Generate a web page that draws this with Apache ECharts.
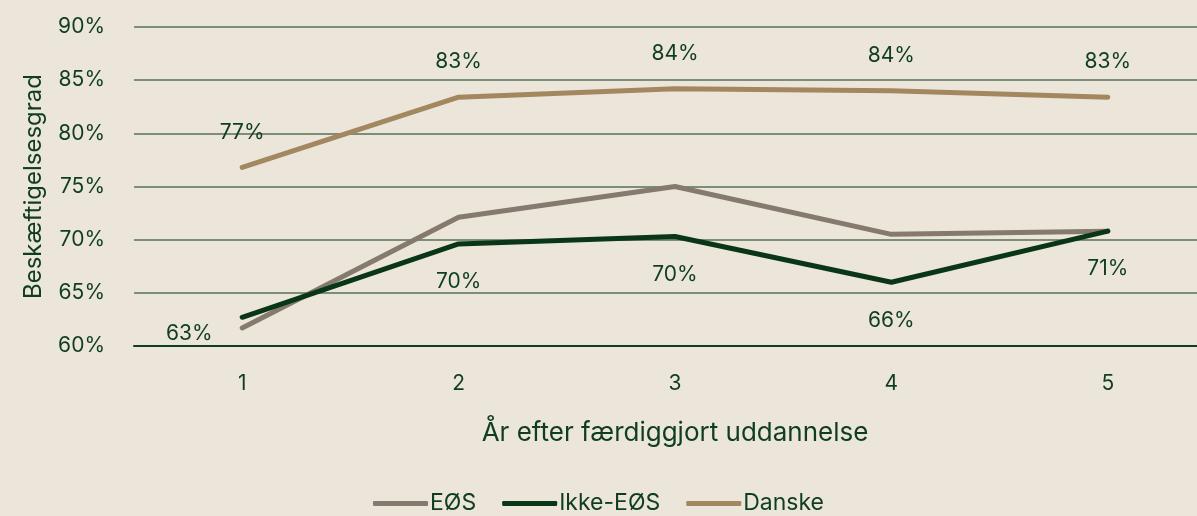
<!DOCTYPE html>
<html><head><meta charset="utf-8">
<script src="https://cdn.jsdelivr.net/npm/echarts@6/dist/echarts.min.js"></script>
<style>html,body{margin:0;padding:0;background:#ebe5da;}#c{width:1197px;height:516px;}</style>
</head><body><div id="c"></div>
<script>
const categories = ['1','2','3','4','5'];
const eos = [61.7, 72.1, 75.0, 70.5, 70.8];
const ikkeEos = [62.7, 69.6, 70.3, 66.0, 70.8];
const danske = [76.8, 83.4, 84.2, 84.0, 83.4];
const yTicks = [60, 65, 70, 75, 80, 85, 90];

const txt = '#0f3d1f';
const font = 'Inter, "Noto Sans", sans-serif';
const chart = echarts.init(document.getElementById('c'), null, {renderer: 'canvas'});
const lineStyle = (c) => ({width: 5, color: c, cap: 'round', join: 'round'});
chart.setOption({
  backgroundColor: '#ebe5da',
  animation: false,
  textStyle: {fontFamily: font, color: txt},
  grid: {left: 134, width: 1082, top: 27, bottom: 170, containLabel: false, outerBoundsMode: 'none'},
  legend: {
    bottom: -4, left: 'center', itemWidth: 55, itemHeight: 5, itemGap: 26,
    textStyle: {fontSize: 23, color: txt, fontFamily: font, padding: [0,0,0,-3]},
    data: [
      {name: 'EØS', icon: 'roundRect'},
      {name: 'Ikke-EØS', icon: 'roundRect'},
      {name: 'Danske', icon: 'roundRect'}
    ]
  },
  xAxis: {
    type: 'category', data: categories, boundaryGap: true,
    name: 'År efter færdiggjort uddannelse', nameLocation: 'middle', nameGap: 74,
    nameTextStyle: {fontSize: 26, color: txt, fontFamily: font},
    axisLine: {show: true, lineStyle: {color: '#0f3d1f', width: 2}},
    axisTick: {show: false},
    axisLabel: {fontSize: 21, color: txt, margin: 27, fontFamily: font}
  },
  yAxis: {
    type: 'value', min: 60, max: 90, interval: 5,
    name: 'Beskæftigelsesgrad', nameLocation: 'middle', nameGap: 88,
    nameTextStyle: {fontSize: 24, color: txt, fontFamily: font},
    axisLine: {show: false}, axisTick: {show: false},
    axisLabel: {fontSize: 21, color: txt, margin: 29, formatter: v => yTicks.includes(v) ? v + '%' : ''},
    splitLine: {lineStyle: {color: '#7d8e78', width: 2}}
  },
  series: [
    {name: 'EØS', type: 'line', data: eos, symbol: 'none', lineStyle: lineStyle('#857a6d'), itemStyle: {color: '#857a6d'}, z: 2},
    {name: 'Ikke-EØS', type: 'line',
     data: ikkeEos.map((v, i) => i === 0 ? {value: v, label: {position: 'left', distance: 5, offset: [-24, 16]}} : v),
     symbol: 'circle', symbolSize: 1, showSymbol: true,
     lineStyle: lineStyle('#093617'), itemStyle: {color: '#093617'}, z: 3,
     label: {show: true, position: 'bottom', distance: 27, fontSize: 21, color: txt, fontFamily: font,
       formatter: p => Math.round(p.value) + '%'}},
    {name: 'Danske', type: 'line', data: danske,
     symbol: 'circle', symbolSize: 1, showSymbol: true,
     lineStyle: lineStyle('#a3875f'), itemStyle: {color: '#a3875f'}, z: 2,
     label: {show: true, position: 'top', distance: 24, fontSize: 21, color: txt, fontFamily: font,
       formatter: p => Math.round(p.value) + '%'}}
  ]
});
</script></body></html>
